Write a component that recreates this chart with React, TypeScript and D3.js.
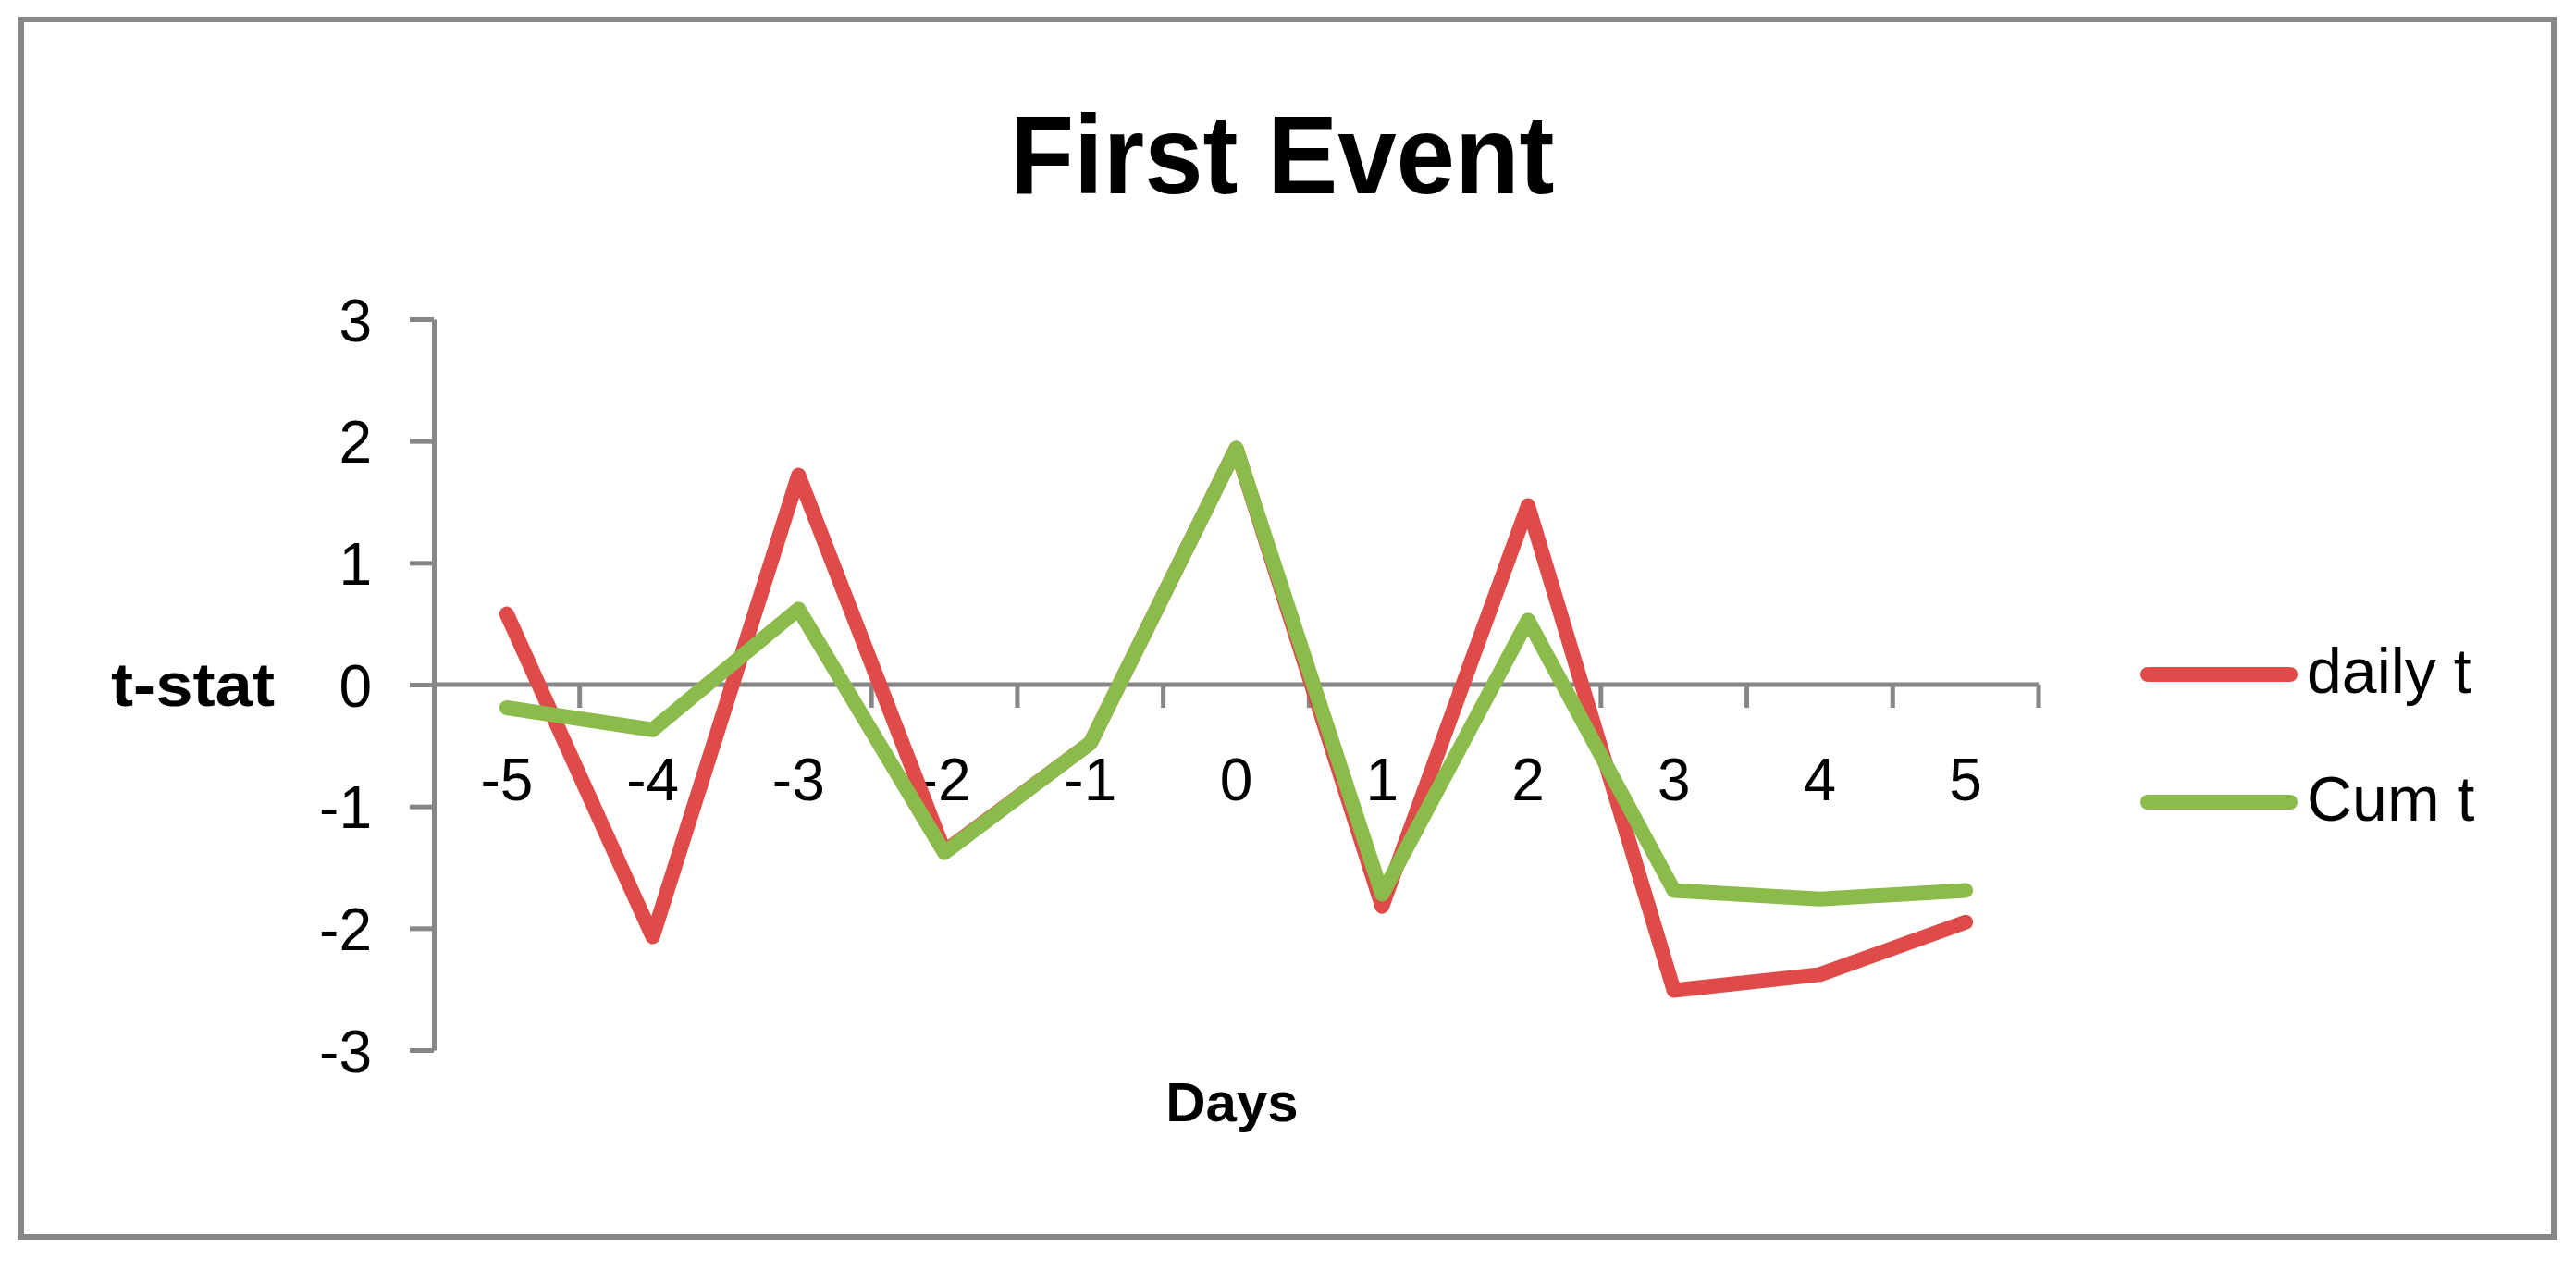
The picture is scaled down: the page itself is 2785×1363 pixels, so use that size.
import React, { useRef, useEffect } from 'react';
import * as d3 from 'd3';

const days = ['-5', '-4', '-3', '-2', '-1', '0', '1', '2', '3', '4', '5'];
const dailyT = [0.58, -2.07, 1.72, -1.37, -0.48, 1.94, -1.82, 1.47, -2.51, -2.38, -1.95];
const cumT = [-0.19, -0.37, 0.62, -1.38, -0.48, 1.94, -1.72, 0.53, -1.69, -1.76, -1.69];
const yTicks = [-3, -2, -1, 0, 1, 2, 3];
const seriesNames = ['daily t', 'Cum t'];
const seriesColors = ['#DE4B49', '#8BBB4B'];

const W = 2785;
const H = 1363;
const FONT = '"Liberation Sans", Arial, sans-serif';
const AXIS = '#868686';

const App = () => {
    const ref = useRef(null);

    useEffect(() => {
        const svg = d3.select(ref.current);
        svg.selectAll('*').remove();

        // outer frame
        svg.append('rect')
            .attr('x', 23).attr('y', 21)
            .attr('width', 2738).attr('height', 1316)
            .attr('fill', '#fff')
            .attr('stroke', '#878787')
            .attr('stroke-width', 6);

        const x = d3.scaleBand().domain(days).range([469, 2204]).padding(0);
        const y = d3.scaleLinear().domain([-3, 3]).range([1135, 345]);
        const cx = (d) => x(d) + x.bandwidth() / 2;

        // title
        svg.append('text')
            .attr('x', 1386).attr('y', 209)
            .attr('text-anchor', 'middle')
            .attr('font-family', FONT)
            .attr('font-weight', 'bold')
            .attr('font-size', 120)
            .attr('textLength', 589)
            .attr('lengthAdjust', 'spacingAndGlyphs')
            .text('First Event');

        // y axis (plain hyphen for negatives, like the source)
        const yAxis = svg.append('g')
            .attr('transform', `translate(${x.range()[0]},0)`)
            .call(d3.axisLeft(y).tickValues(yTicks).tickSize(26).tickSizeOuter(0).tickPadding(41).tickFormat(d => String(d)));
        yAxis.select('.domain').attr('stroke', AXIS).attr('stroke-width', 5);
        yAxis.selectAll('.tick line').attr('stroke', AXIS).attr('stroke-width', 5);
        yAxis.selectAll('.tick text')
            .attr('font-family', FONT)
            .attr('font-size', 64)
            .attr('fill', '#000')
            .attr('dy', '0.36em');
        yAxis.attr('font-family', null).attr('font-size', null);

        // x axis at zero
        const y0 = y(0);
        const gx = svg.append('g');
        gx.append('line')
            .attr('x1', x.range()[0]).attr('x2', x.range()[1])
            .attr('y1', y0).attr('y2', y0)
            .attr('stroke', AXIS).attr('stroke-width', 5);
        const bounds = days.map(d => x(d) + x.bandwidth());
        gx.selectAll('.xt')
            .data(bounds)
            .join('line')
            .attr('x1', d => d).attr('x2', d => d)
            .attr('y1', y0).attr('y2', y0 + 25)
            .attr('stroke', AXIS).attr('stroke-width', 5);
        gx.selectAll('.xl')
            .data(days)
            .join('text')
            .attr('x', d => cx(d))
            .attr('y', y0 + 125)
            .attr('text-anchor', 'middle')
            .attr('font-family', FONT)
            .attr('font-size', 64)
            .text(d => d);

        // axis titles
        svg.append('text')
            .attr('x', 120).attr('y', 763)
            .attr('font-family', FONT)
            .attr('font-weight', 'bold')
            .attr('font-size', 66)
            .attr('textLength', 177)
            .attr('lengthAdjust', 'spacingAndGlyphs')
            .text('t-stat');
        svg.append('text')
            .attr('x', 1332).attr('y', 1212)
            .attr('text-anchor', 'middle')
            .attr('font-family', FONT)
            .attr('font-weight', 'bold')
            .attr('font-size', 60)
            .text('Days');

        // series
        const line = d3.line()
            .x((d, i) => cx(days[i]))
            .y(d => y(d));
        [dailyT, cumT].forEach((vals, i) => {
            svg.append('path')
                .datum(vals)
                .attr('fill', 'none')
                .attr('stroke', seriesColors[i])
                .attr('stroke-width', 16)
                .attr('stroke-linejoin', 'round')
                .attr('stroke-linecap', 'round')
                .attr('d', line);
        });

        // legend
        const legendY = [729, 867];
        seriesNames.forEach((name, i) => {
            svg.append('line')
                .attr('x1', 2322).attr('x2', 2476)
                .attr('y1', legendY[i]).attr('y2', legendY[i])
                .attr('stroke', seriesColors[i])
                .attr('stroke-width', 16)
                .attr('stroke-linecap', 'round');
            svg.append('text')
                .attr('x', 2494)
                .attr('y', legendY[i] + 20)
                .attr('font-family', FONT)
                .attr('font-size', 68)
                .text(name);
        });
    }, []);

    return (
        <svg ref={ref} width={W} height={H} viewBox={`0 0 ${W} ${H}`}
            style={{ position: 'absolute', left: 0, top: 0, background: '#fff' }} />
    );
};

export default App;
